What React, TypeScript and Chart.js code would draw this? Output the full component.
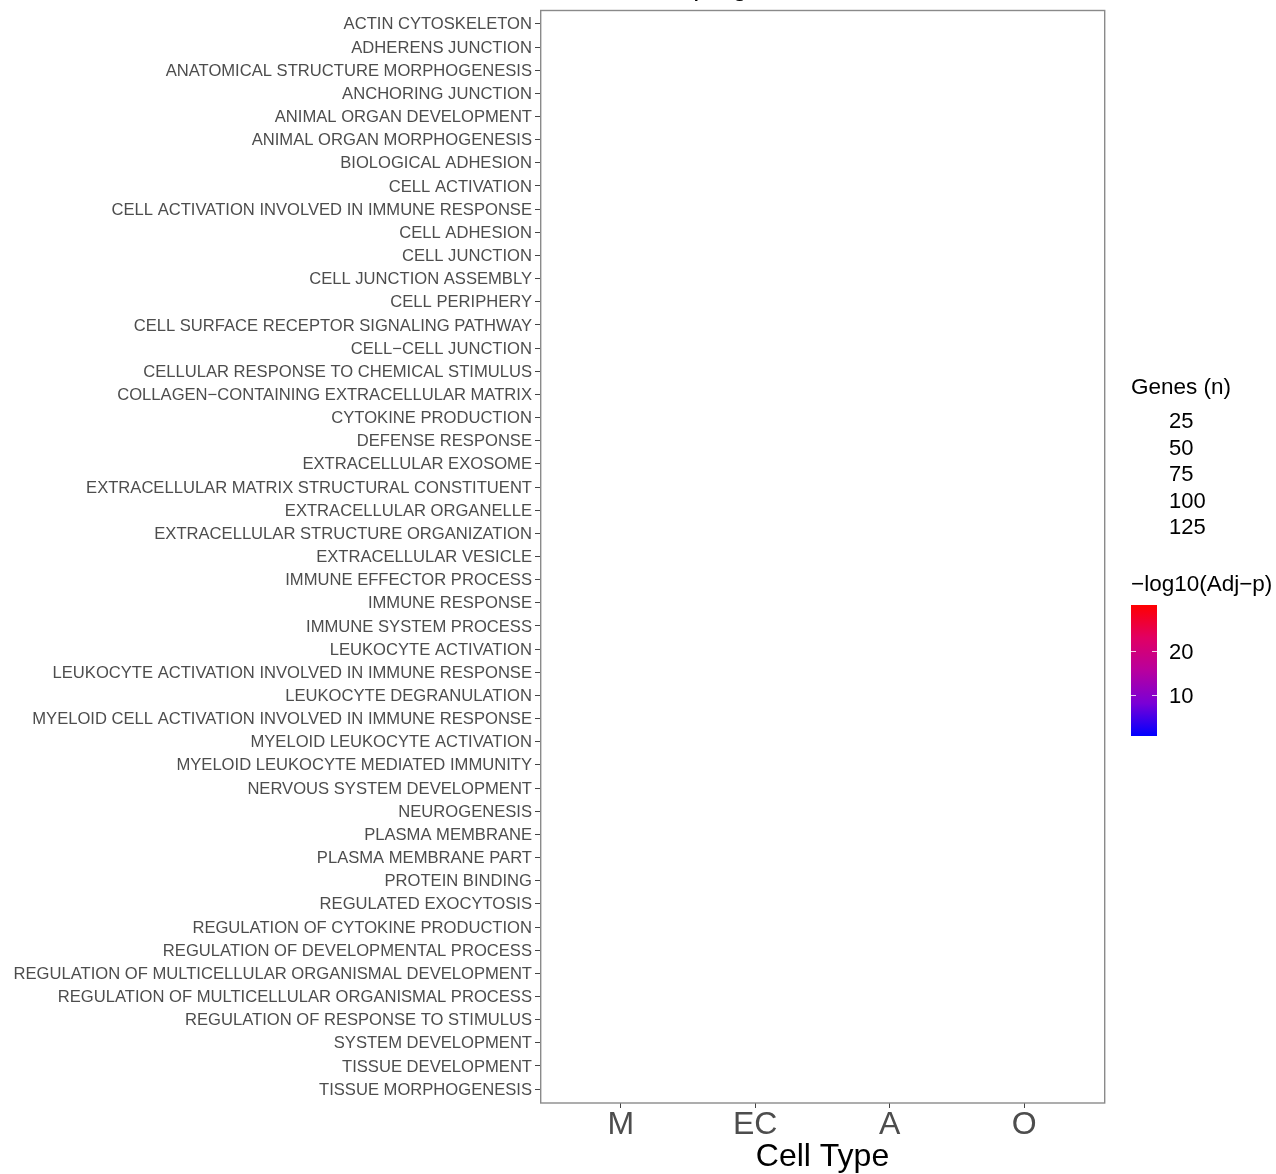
import React, { useEffect, useRef } from "react";
import { Chart, registerables } from "chart.js";

Chart.register(...registerables);

const terms: string[] = [
  "ACTIN CYTOSKELETON",
  "ADHERENS JUNCTION",
  "ANATOMICAL STRUCTURE MORPHOGENESIS",
  "ANCHORING JUNCTION",
  "ANIMAL ORGAN DEVELOPMENT",
  "ANIMAL ORGAN MORPHOGENESIS",
  "BIOLOGICAL ADHESION",
  "CELL ACTIVATION",
  "CELL ACTIVATION INVOLVED IN IMMUNE RESPONSE",
  "CELL ADHESION",
  "CELL JUNCTION",
  "CELL JUNCTION ASSEMBLY",
  "CELL PERIPHERY",
  "CELL SURFACE RECEPTOR SIGNALING PATHWAY",
  "CELL\u2212CELL JUNCTION",
  "CELLULAR RESPONSE TO CHEMICAL STIMULUS",
  "COLLAGEN\u2212CONTAINING EXTRACELLULAR MATRIX",
  "CYTOKINE PRODUCTION",
  "DEFENSE RESPONSE",
  "EXTRACELLULAR EXOSOME",
  "EXTRACELLULAR MATRIX STRUCTURAL CONSTITUENT",
  "EXTRACELLULAR ORGANELLE",
  "EXTRACELLULAR STRUCTURE ORGANIZATION",
  "EXTRACELLULAR VESICLE",
  "IMMUNE EFFECTOR PROCESS",
  "IMMUNE RESPONSE",
  "IMMUNE SYSTEM PROCESS",
  "LEUKOCYTE ACTIVATION",
  "LEUKOCYTE ACTIVATION INVOLVED IN IMMUNE RESPONSE",
  "LEUKOCYTE DEGRANULATION",
  "MYELOID CELL ACTIVATION INVOLVED IN IMMUNE RESPONSE",
  "MYELOID LEUKOCYTE ACTIVATION",
  "MYELOID LEUKOCYTE MEDIATED IMMUNITY",
  "NERVOUS SYSTEM DEVELOPMENT",
  "NEUROGENESIS",
  "PLASMA MEMBRANE",
  "PLASMA MEMBRANE PART",
  "PROTEIN BINDING",
  "REGULATED EXOCYTOSIS",
  "REGULATION OF CYTOKINE PRODUCTION",
  "REGULATION OF DEVELOPMENTAL PROCESS",
  "REGULATION OF MULTICELLULAR ORGANISMAL DEVELOPMENT",
  "REGULATION OF MULTICELLULAR ORGANISMAL PROCESS",
  "REGULATION OF RESPONSE TO STIMULUS",
  "SYSTEM DEVELOPMENT",
  "TISSUE DEVELOPMENT",
  "TISSUE MORPHOGENESIS",
];

const cellTypes: string[] = ["M", "EC", "A", "O"];

// size legend breaks (Genes (n)) and colour legend breaks/limits (-log10 adj p)
const geneBreaks: number[] = [25, 50, 75, 100, 125];
const logpBreaks: number[] = [10, 20];
const logpLimits: number[] = [0.7, 30.5];

const plotTitle = "Upregulated GO Terms";
const xTitle = "Cell Type";
const sizeTitle = "Genes (n)";
const colorTitle = "\u2212log10(Adj\u2212p)";

// no points are drawn in the reference panel
const points: { cell: string; term: string; genes: number; logp: number }[] = [];

const FONT = '"Liberation Sans", Arial, Helvetica, sans-serif';
const GRAY = "#4D4D4D";
const BORDER = "#8A8A8A";
const TICK = "#444444";

const gradientStops: [number, string][] = [
  [0, "#0000FF"],
  [0.25, "#7A00D6"],
  [0.5, "#B8009E"],
  [0.75, "#E10063"],
  [1, "#FF0000"],
];

const decorPlugin = {
  id: "decor",
  afterDraw(chart: any) {
    const { ctx, chartArea } = chart;
    const { left, top, right, bottom } = chartArea;
    ctx.save();
    // panel border
    ctx.strokeStyle = BORDER;
    ctx.lineWidth = 1.4;
    ctx.strokeRect(left + 0.7, top + 0.5, right - left - 1, bottom - top - 0.5);

    // title (clipped at the top of the page)
    ctx.fillStyle = "#000";
    ctx.font = `27px ${FONT}`;
    ctx.textAlign = "center";
    ctx.textBaseline = "alphabetic";
    ctx.fillText(plotTitle, (left + right) / 2 - 10, -5);

    // legends
    const x0 = right + 26;
    ctx.textAlign = "left";
    ctx.textBaseline = "middle";
    ctx.font = `22.5px ${FONT}`;
    ctx.fillText(sizeTitle, x0, 388);
    ctx.font = `22px ${FONT}`;
    geneBreaks.forEach((b, i) => {
      ctx.fillText(String(b), x0 + 38, 422 + i * 26.5);
    });

    ctx.font = `22.5px ${FONT}`;
    ctx.fillText(colorTitle, x0, 585);

    const barTop = 605;
    const barBot = 736;
    const barW = 26;
    const grad = ctx.createLinearGradient(0, barBot, 0, barTop);
    gradientStops.forEach(([o, c]) => grad.addColorStop(o, c));
    ctx.fillStyle = grad;
    ctx.fillRect(x0, barTop, barW, barBot - barTop);

    const toY = (v: number) =>
      barBot - ((v - logpLimits[0]) / (logpLimits[1] - logpLimits[0])) * (barBot - barTop);
    ctx.strokeStyle = "rgba(255,255,255,0.8)";
    ctx.lineWidth = 1;
    ctx.font = `22px ${FONT}`;
    ctx.fillStyle = "#000";
    logpBreaks.forEach((b) => {
      const y = Math.round(toY(b)) + 0.5;
      ctx.beginPath();
      ctx.moveTo(x0, y);
      ctx.lineTo(x0 + 5, y);
      ctx.moveTo(x0 + barW - 5, y);
      ctx.lineTo(x0 + barW, y);
      ctx.stroke();
      ctx.fillText(String(b), x0 + 38, y + 1);
    });
    ctx.restore();
  },
};

export default function App() {
  const ref = useRef<HTMLCanvasElement | null>(null);

  useEffect(() => {
    if (!ref.current) return;
    const chart = new Chart(ref.current, {
      type: "scatter",
      data: {
        datasets: [
          {
            data: points.map((p) => ({
              x: cellTypes.indexOf(p.cell),
              y: terms.indexOf(p.term),
            })),
            pointRadius: points.map((p) => Math.sqrt(p.genes)),
            backgroundColor: "#B8009E",
          },
        ],
      },
      options: {
        animation: false,
        responsive: false,
        layout: { padding: { left: 0, right: 171, top: 10, bottom: 0 } },
        plugins: {
          legend: { display: false },
          tooltip: { enabled: false },
          title: { display: false },
        },
        scales: {
          x: {
            type: "linear",
            min: -0.6,
            max: cellTypes.length - 1 + 0.6,
            afterBuildTicks: (s: any) => {
              s.ticks = cellTypes.map((_, i) => ({ value: i }));
            },
            afterFit: (s: any) => {
              s.height = 71;
              s.paddingLeft = 0;
              s.paddingRight = 0;
            },
            ticks: {
              autoSkip: false,
              maxRotation: 0,
              padding: -2,
              color: GRAY,
              font: { family: FONT, size: 32 },
              callback: (_v: any, i: number) => cellTypes[i],
            },
            grid: {
              drawOnChartArea: false,
              drawTicks: true,
              tickLength: 5,
              color: TICK,
            },
            border: { display: false },
            title: {
              display: true,
              text: xTitle,
              color: "#000",
              font: { family: FONT, size: 32 },
              padding: { top: 0, bottom: -2 },
            },
          },
          y: {
            type: "linear",
            reverse: true,
            min: -0.6,
            max: terms.length - 1 + 0.6,
            afterBuildTicks: (s: any) => {
              s.ticks = terms.map((_, i) => ({ value: i }));
            },
            afterFit: (s: any) => {
              s.width = 540;
              s.paddingTop = 0;
              s.paddingBottom = 0;
            },
            ticks: {
              autoSkip: false,
              padding: 3,
              labelOffset: 1,
              color: GRAY,
              font: { family: FONT, size: 16.6 },
              callback: (_v: any, i: number) => terms[i],
            },
            grid: {
              drawOnChartArea: false,
              drawTicks: true,
              tickLength: 5,
              color: TICK,
            },
            border: { display: false },
          },
        },
      } as any,
      plugins: [decorPlugin],
    });
    return () => chart.destroy();
  }, []);

  return (
    <div style={{ position: "absolute", left: 0, top: 0, width: 1276, height: 1174, background: "#fff" }}>
      <canvas ref={ref} width={1276} height={1174} />
    </div>
  );
}
